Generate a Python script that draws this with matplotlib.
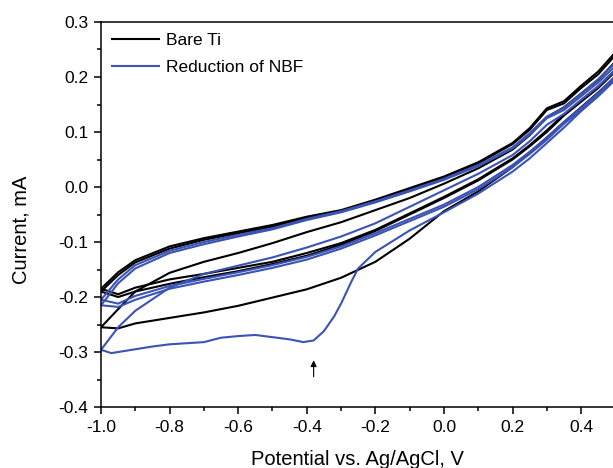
import matplotlib
matplotlib.use("Agg")
import matplotlib.pyplot as plt
from matplotlib.ticker import MultipleLocator

plt.rcParams['font.family'] = ['Liberation Sans', 'DejaVu Sans']

# potential grid (V) for most branches
E = [-1.0, -0.95, -0.9, -0.8, -0.7, -0.6, -0.5, -0.4, -0.3, -0.2,
     -0.1, 0.0, 0.1, 0.2, 0.25, 0.3, 0.35, 0.4, 0.45, 0.5]

# Bare Ti, current in mA (anodic = scan going positive, cathodic = going negative)
bare_c1_cat = [-0.255, -0.257, -0.248, -0.238, -0.228, -0.216, -0.201, -0.186, -0.165, -0.136,
               -0.094, -0.044, -0.008, 0.036, 0.062, 0.09, 0.118, 0.145, 0.172, 0.2]
bare_c1_an = [-0.255, -0.222, -0.19, -0.156, -0.136, -0.12, -0.102, -0.082, -0.064, -0.042,
              -0.02, 0.006, 0.034, 0.068, 0.094, 0.127, 0.145, 0.17, 0.195, 0.228]
bare_c2_cat = [-0.19, -0.2, -0.19, -0.176, -0.164, -0.153, -0.14, -0.125, -0.105, -0.08,
               -0.05, -0.02, 0.012, 0.05, 0.074, 0.1, 0.13, 0.155, 0.18, 0.21]
bare_c2_an = [-0.19, -0.16, -0.137, -0.112, -0.096, -0.084, -0.072, -0.056, -0.045, -0.026,
              -0.004, 0.017, 0.043, 0.078, 0.104, 0.14, 0.152, 0.18, 0.205, 0.24]
bare_c3_cat = [-0.185, -0.195, -0.183, -0.168, -0.158, -0.147, -0.136, -0.12, -0.102, -0.078,
               -0.048, -0.018, 0.014, 0.052, 0.076, 0.103, 0.132, 0.158, 0.183, 0.213]
bare_c3_an = [-0.185, -0.155, -0.133, -0.108, -0.093, -0.081, -0.069, -0.054, -0.042, -0.023,
              -0.002, 0.019, 0.045, 0.08, 0.107, 0.143, 0.156, 0.184, 0.21, 0.245]

# Reduction of NBF, first cathodic scan has the reduction wave near -0.38 V
E_nbf_c1_cat = [-1.0, -0.97, -0.9, -0.85, -0.8, -0.7, -0.65, -0.6, -0.55, -0.5,
                -0.45, -0.41, -0.38, -0.35, -0.32, -0.3, -0.27, -0.25, -0.2, -0.1,
                0.0, 0.1, 0.2, 0.25, 0.3, 0.35, 0.4, 0.45, 0.5]
nbf_c1_cat = [-0.296, -0.302, -0.295, -0.29, -0.286, -0.282, -0.274, -0.271, -0.269, -0.273,
              -0.277, -0.282, -0.279, -0.262, -0.235, -0.212, -0.172, -0.148, -0.118, -0.079,
              -0.046, -0.012, 0.028, 0.052, 0.08, 0.108, 0.138, 0.165, 0.195]
nbf_c1_an = [-0.296, -0.255, -0.225, -0.183, -0.158, -0.143, -0.128, -0.11, -0.09, -0.066,
             -0.036, -0.006, 0.024, 0.058, 0.083, 0.113, 0.133, 0.158, 0.183, 0.212]
nbf_c2_cat = [-0.215, -0.218, -0.205, -0.185, -0.172, -0.16, -0.147, -0.132, -0.112, -0.088,
              -0.062, -0.036, -0.004, 0.036, 0.06, 0.086, 0.115, 0.14, 0.167, 0.198]
nbf_c2_an = [-0.215, -0.175, -0.148, -0.12, -0.104, -0.09, -0.077, -0.06, -0.046, -0.028,
             -0.008, 0.013, 0.038, 0.07, 0.095, 0.125, 0.14, 0.165, 0.19, 0.22]
nbf_c3_cat = [-0.205, -0.212, -0.198, -0.18, -0.167, -0.155, -0.142, -0.127, -0.108, -0.084,
              -0.058, -0.032, 0.0, 0.04, 0.064, 0.09, 0.118, 0.144, 0.171, 0.202]
nbf_c3_an = [-0.205, -0.168, -0.142, -0.116, -0.1, -0.087, -0.075, -0.058, -0.044, -0.026,
             -0.006, 0.015, 0.04, 0.072, 0.098, 0.128, 0.144, 0.17, 0.196, 0.226]

black = '#000000'
blue = '#3b53b5'

fig = plt.figure(figsize=(6.13, 4.68), dpi=100)
ax = fig.add_axes([0.1648, 0.1303, 0.8352, 0.8227])

lw = 1.5
# bare Ti cycles
ax.plot(E[::-1], bare_c1_cat[::-1], color=black, lw=lw, label='Bare Ti')
ax.plot(E, bare_c1_an, color=black, lw=lw)
ax.plot(E[::-1], bare_c2_cat[::-1], color=black, lw=lw)
ax.plot(E, bare_c2_an, color=black, lw=lw)
ax.plot(E[::-1], bare_c3_cat[::-1], color=black, lw=lw)
ax.plot(E, bare_c3_an, color=black, lw=lw)

# NBF cycles
ax.plot(E_nbf_c1_cat[::-1], nbf_c1_cat[::-1], color=blue, lw=lw, label='Reduction of NBF')
ax.plot(E, nbf_c1_an, color=blue, lw=lw)
ax.plot(E[::-1], nbf_c2_cat[::-1], color=blue, lw=lw)
ax.plot(E, nbf_c2_an, color=blue, lw=lw)
ax.plot(E[::-1], nbf_c3_cat[::-1], color=blue, lw=lw)
ax.plot(E, nbf_c3_an, color=blue, lw=lw)

# arrow pointing at the reduction peak
ax.annotate('', xy=(-0.38, -0.31), xytext=(-0.38, -0.35),
            arrowprops=dict(arrowstyle='-|>', color='k', lw=0.8, mutation_scale=9))

ax.set_xlim(-1.0, 0.493)
ax.set_ylim(-0.4, 0.3)
ax.xaxis.set_major_locator(MultipleLocator(0.2))
ax.xaxis.set_minor_locator(MultipleLocator(0.1))
ax.yaxis.set_major_locator(MultipleLocator(0.1))
ax.yaxis.set_minor_locator(MultipleLocator(0.05))
ax.xaxis.set_major_formatter(plt.FuncFormatter(lambda v, p: f'{v:.1f}'))
ax.yaxis.set_major_formatter(plt.FuncFormatter(lambda v, p: f'{v:.1f}'))

ax.spines['right'].set_visible(False)
for s in ['left', 'top', 'bottom']:
    ax.spines[s].set_linewidth(1.1)
ax.tick_params(which='major', direction='out', length=5, width=1.1, labelsize=12.5, pad=4)
ax.tick_params(which='minor', direction='out', length=3, width=1.1)
ax.tick_params(top=False, right=False)

ax.set_xlabel('Potential vs. Ag/AgCl, V', fontsize=14.5, labelpad=11)
ax.set_ylabel('Current, mA', fontsize=14.5)
ax.yaxis.set_label_coords(-0.137, 0.46)

ax.legend(loc='upper left', frameon=False, fontsize=12.5, handlelength=2.7,
          labelspacing=0.65, borderaxespad=0.25, handletextpad=0.4)

fig.savefig('out.png', dpi=100)
